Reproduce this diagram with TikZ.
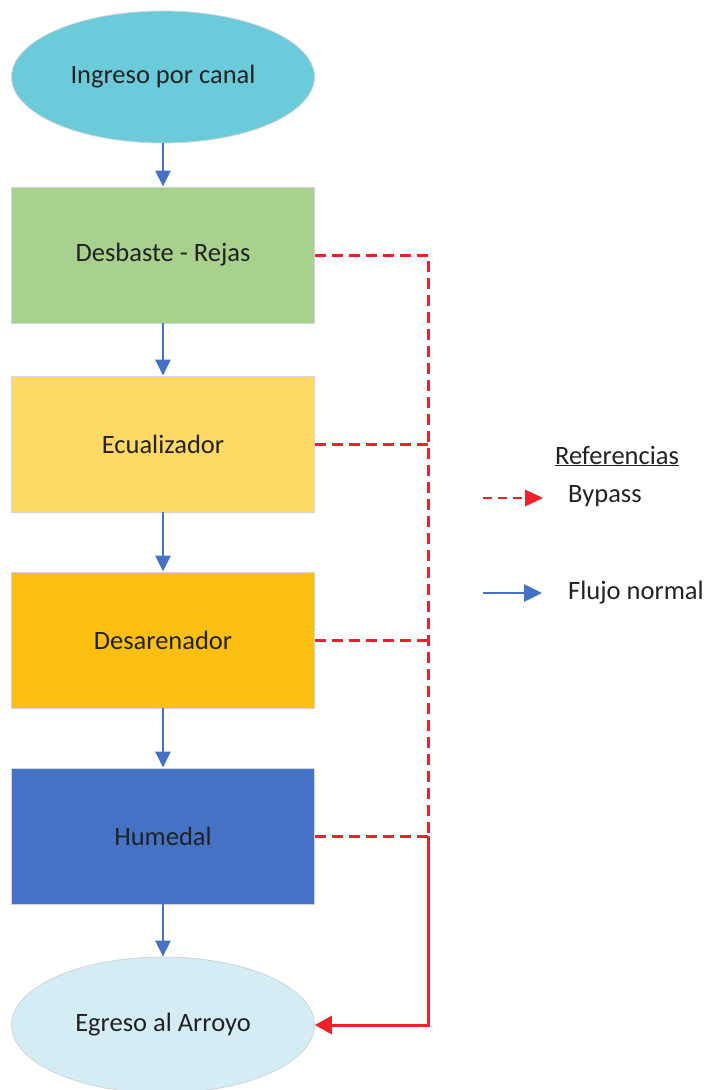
\documentclass[tikz,border=0pt]{standalone}
\usepackage{fontspec}
\setmainfont{Carlito}
\usetikzlibrary{shapes.geometric,arrows.meta}
\definecolor{cIn}{HTML}{6BCBDB}
\definecolor{cGreen}{HTML}{A9D18E}
\definecolor{cYellow}{HTML}{FFD966}
\definecolor{cOrange}{HTML}{FBBF14}
\definecolor{cBlue}{HTML}{4472C4}
\definecolor{cOut}{HTML}{D4ECF3}
\definecolor{cRed}{HTML}{F0202A}
\definecolor{cText}{HTML}{222222}
\definecolor{cEdge}{HTML}{D0D4DC}
\tikzset{
  lbl/.style={font=\fontsize{26.5}{31}\selectfont, text=cText},
  oval/.style={ellipse, lbl, minimum width=303pt, minimum height=132pt, inner sep=0pt, draw=cEdge, line width=0.8pt},
  stepbox/.style={rectangle, lbl, minimum width=303pt, minimum height=136pt, inner sep=0pt, draw=cEdge, line width=0.8pt},
  flow/.style={draw=cBlue, line width=2.6pt, -{Triangle[length=16pt,width=15pt]}},
  bypass/.style={draw=cRed, line width=3pt, dash pattern=on 11pt off 6pt},
  bypasssolid/.style={draw=cRed, line width=3pt, -{Triangle[length=17pt,width=18pt]}},
  legtxt/.style={lbl, anchor=west, inner sep=0pt}
}
\begin{document}
\begin{tikzpicture}[x=1pt,y=-1pt]
\useasboundingbox (0,0) rectangle (708,1090);
\clip (0,0) rectangle (708,1090);
\node[oval, fill=cIn] (in) at (163,77) {Ingreso por canal};
\node[stepbox, fill=cGreen] (des) at (163,255) {Desbaste - Rejas};
\node[stepbox, fill=cYellow] (ecu) at (163,444) {Ecualizador};
\node[stepbox, fill=cOrange] (are) at (163,640) {Desarenador};
\node[stepbox, fill=cBlue] (hum) at (163,836) {Humedal};
\node[oval, fill=cOut, minimum height=136pt] (out) at (163,1025) {Egreso al Arroyo};

\draw[flow] (in) -- (des);
\draw[flow] (des) -- (ecu);
\draw[flow] (ecu) -- (are);
\draw[flow] (are) -- (hum);
\draw[flow] (hum) -- (out);

\coordinate (bt) at (428,255);
\coordinate (bh) at (428,836);
\coordinate (bb) at (428,1025);
\draw[bypass] (des.east) -- (bt) -- (bh);
\draw[bypass] (ecu.east) -- (ecu.east -| bt);
\draw[bypass] (are.east) -- (are.east -| bt);
\draw[bypass] (hum.east) -- (bh);
\draw[bypasssolid] (bh) -- (bb) -- (out.east);

% legend
\node[lbl, inner sep=0pt] (ref) at (617,456) {\underline{Referencias}};
\coordinate (l1a) at (483,498);
\coordinate (l1b) at (525,498);
\coordinate (l2a) at (483,593);
\coordinate (l2b) at (542,593);
\draw[draw=cRed, line width=2.4pt, dash pattern=on 9pt off 6pt] (l1a) -- (l1b);
\fill[cRed] (l1b) ++(0,-8.5) -- ++(0,17) -- ++(18,-8.5) -- cycle;
\draw[flow, -{Triangle[length=18pt,width=17pt]}] (l2a) -- (l2b);
\node[legtxt] (byp) at (568,496) {Bypass};
\node[legtxt] (fn) at (568,593) {Flujo normal};
\end{tikzpicture}
\end{document}
